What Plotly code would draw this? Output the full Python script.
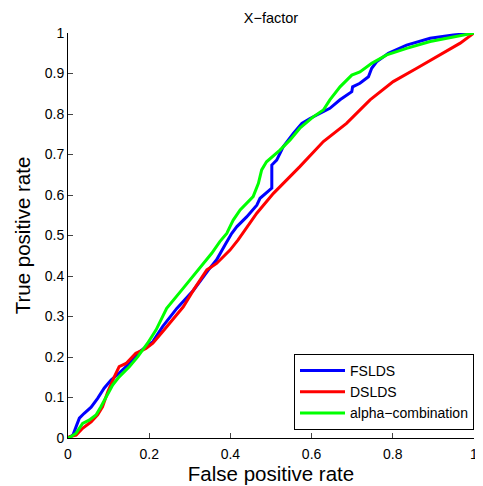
import plotly.graph_objects as go

fslds_x = [0, 0.012, 0.02, 0.028, 0.04, 0.057, 0.073, 0.089, 0.106, 0.126, 0.151, 0.176, 0.209, 0.233, 0.268, 0.309, 0.346, 0.366, 0.387, 0.403, 0.416, 0.44, 0.465, 0.473, 0.502, 0.502, 0.514, 0.53, 0.555, 0.576, 0.596, 0.629, 0.645, 0.67, 0.699, 0.701, 0.719, 0.74, 0.748, 0.76, 0.789, 0.834, 0.892, 0.949, 1]
fslds_y = [0, 0.007, 0.028, 0.049, 0.061, 0.076, 0.098, 0.123, 0.143, 0.16, 0.184, 0.213, 0.238, 0.275, 0.32, 0.365, 0.415, 0.44, 0.477, 0.505, 0.522, 0.546, 0.575, 0.592, 0.617, 0.674, 0.686, 0.719, 0.752, 0.777, 0.789, 0.806, 0.814, 0.835, 0.855, 0.867, 0.876, 0.892, 0.913, 0.929, 0.95, 0.97, 0.987, 0.995, 1]

dslds_x = [0, 0.003, 0.02, 0.036, 0.057, 0.073, 0.085, 0.098, 0.114, 0.126, 0.143, 0.167, 0.192, 0.209, 0.235, 0.284, 0.309, 0.342, 0.366, 0.399, 0.419, 0.44, 0.465, 0.506, 0.571, 0.629, 0.645, 0.686, 0.744, 0.801, 0.859, 0.916, 0.966, 1]
dslds_y = [0, 0.003, 0.007, 0.024, 0.04, 0.057, 0.077, 0.114, 0.151, 0.176, 0.184, 0.209, 0.221, 0.234, 0.265, 0.324, 0.365, 0.415, 0.431, 0.464, 0.489, 0.52, 0.555, 0.604, 0.67, 0.732, 0.744, 0.777, 0.835, 0.88, 0.913, 0.946, 0.975, 1]

alpha_x = [0, 0.007, 0.02, 0.036, 0.052, 0.069, 0.081, 0.094, 0.11, 0.126, 0.151, 0.172, 0.196, 0.217, 0.243, 0.284, 0.325, 0.354, 0.374, 0.391, 0.399, 0.407, 0.424, 0.456, 0.469, 0.477, 0.489, 0.522, 0.547, 0.571, 0.604, 0.629, 0.645, 0.67, 0.699, 0.719, 0.748, 0.785, 0.834, 0.892, 0.949, 1]
alpha_y = [0, 0.003, 0.012, 0.036, 0.044, 0.057, 0.077, 0.102, 0.131, 0.151, 0.176, 0.201, 0.234, 0.267, 0.32, 0.37, 0.419, 0.456, 0.485, 0.505, 0.522, 0.538, 0.563, 0.596, 0.629, 0.662, 0.682, 0.711, 0.736, 0.765, 0.793, 0.81, 0.835, 0.867, 0.896, 0.904, 0.925, 0.946, 0.962, 0.979, 0.99, 1]

xtick_vals = [0, 0.2, 0.4, 0.6, 0.8, 1]
ytick_vals = [0, 0.1, 0.2, 0.3, 0.4, 0.5, 0.6, 0.7, 0.8, 0.9, 1]

font = "Liberation Sans, Arial, Helvetica, sans-serif"

fig = go.Figure()
fig.add_trace(go.Scatter(x=fslds_x, y=fslds_y, mode="lines", name="FSLDS",
                         line=dict(color="#0000ff", width=3)))
fig.add_trace(go.Scatter(x=dslds_x, y=dslds_y, mode="lines", name="DSLDS",
                         line=dict(color="#ff0000", width=3)))
fig.add_trace(go.Scatter(x=alpha_x, y=alpha_y, mode="lines", name="alpha\u2212combination",
                         line=dict(color="#00ff00", width=3)))

# page body has an 8px margin; figure is sized so the plot area lands at
# x 68..474, y 33..438 in the 483x486 window
fig.update_layout(
    width=475, height=478,
    margin=dict(l=60, r=9, t=25, b=48, autoexpand=False),
    paper_bgcolor="white", plot_bgcolor="white",
    font=dict(family=font, color="black", size=14),
    title=dict(text="X\u2212factor", xref="paper", x=0.5, xanchor="center",
               yref="container", y=1 - 9.5 / 478, yanchor="middle",
               font=dict(size=14.5)),
    showlegend=True,
    legend=dict(x=1, xanchor="right", y=0.02, yanchor="bottom",
                bgcolor="white", bordercolor="black", borderwidth=1,
                font=dict(size=14), tracegroupgap=0, itemwidth=45),
)
fig.update_xaxes(range=[0, 1], tickvals=xtick_vals, ticks="inside", ticklen=5,
                 showline=True, linecolor="black", linewidth=1, showgrid=False,
                 zeroline=False, tickfont=dict(size=14), automargin=False,
                 ticklabelstandoff=3,
                 title=dict(text="False positive rate", font=dict(size=20.5), standoff=2))
fig.update_yaxes(range=[0, 1], tickvals=ytick_vals, ticks="inside", ticklen=5,
                 showline=True, linecolor="black", linewidth=1, showgrid=False,
                 zeroline=False, tickfont=dict(size=14), automargin=False,
                 title=dict(text="True positive rate", font=dict(size=20.5), standoff=8))

fig.write_html("out.html")
